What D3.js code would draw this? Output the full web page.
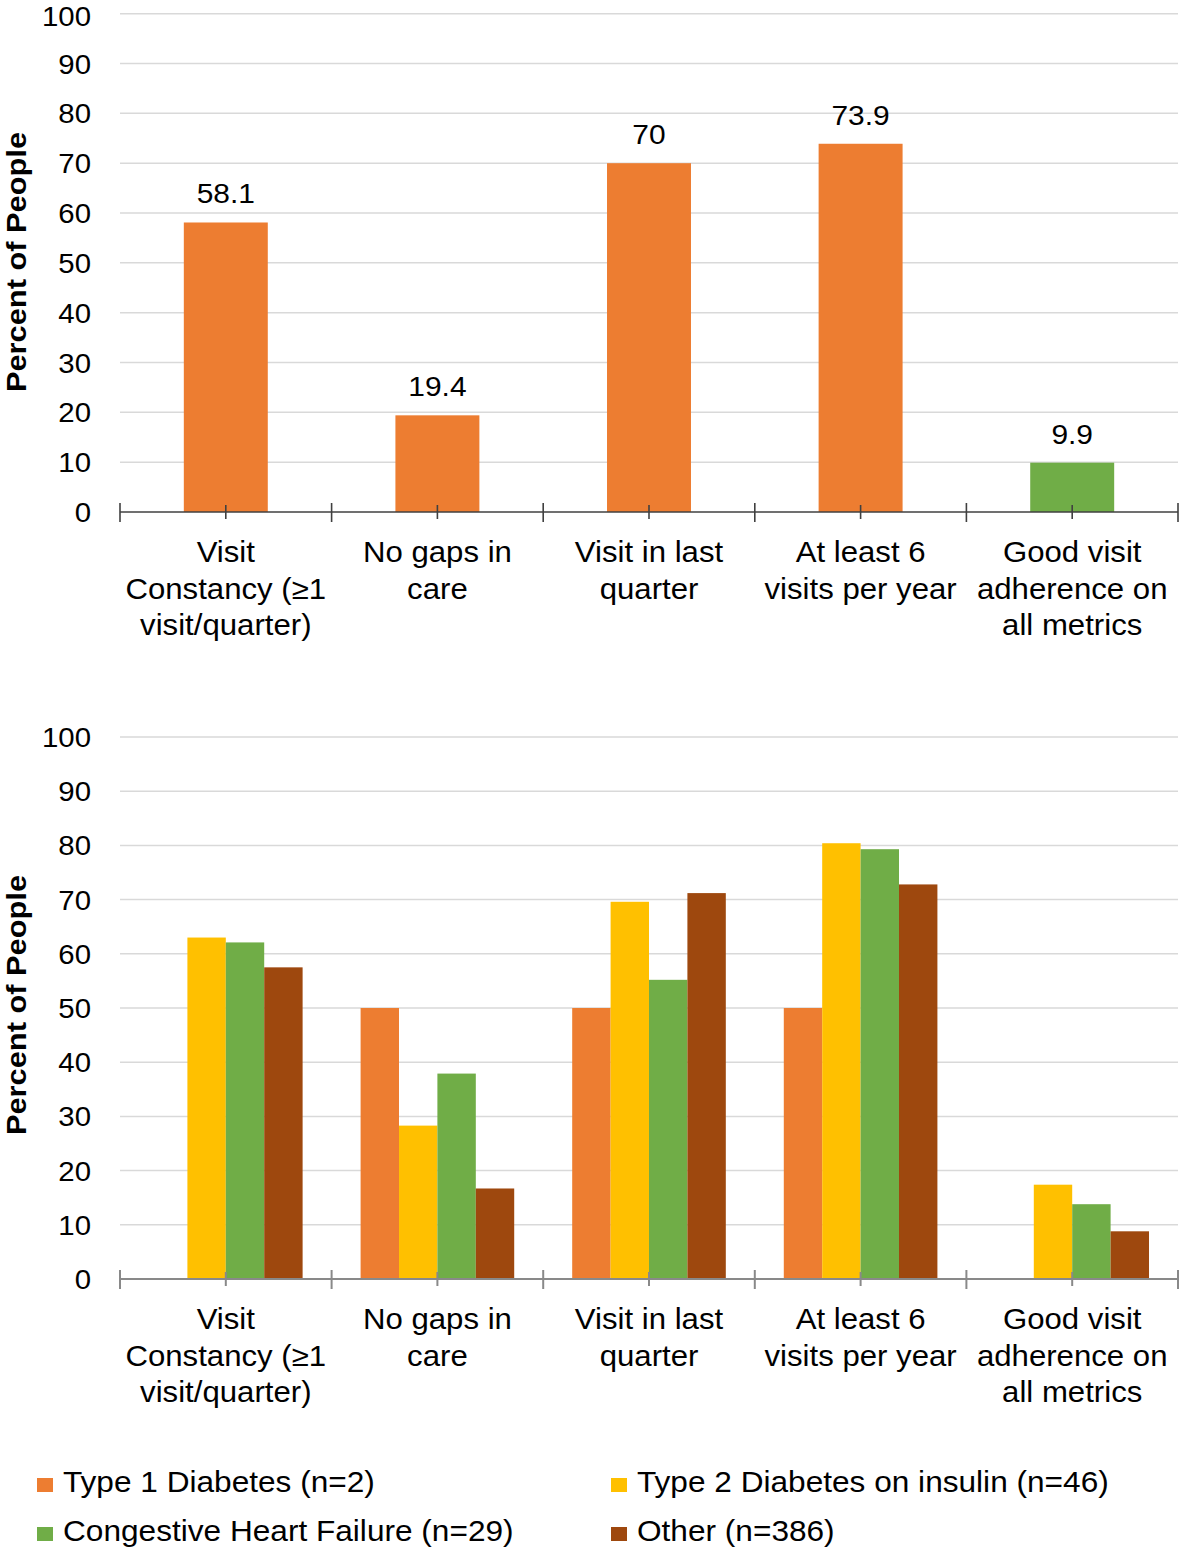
<!DOCTYPE html>
<html>
<head>
<meta charset="utf-8">
<script src="https://cdn.jsdelivr.net/npm/d3@7/dist/d3.min.js"></script>
<style>
  html, body { margin: 0; padding: 0; background: #fff; }
  svg { display: block; }
  text { font-family: "Liberation Sans", Arial, sans-serif; fill: #000; }
</style>
</head>
<body>
<div id="chart"></div>
<script>
// ---------------- DATA ----------------
const categories = [
  ["Visit", "Constancy (\u22651", "visit/quarter)"],
  ["No gaps in", "care"],
  ["Visit in last", "quarter"],
  ["At least 6", "visits per year"],
  ["Good visit", "adherence on", "all metrics"]
];
const categoryKeys = ["c1", "c2", "c3", "c4", "c5"];

// top chart (overall)
const overallValues = [58.1, 19.4, 70, 73.9, 9.9];
const overallLabels = ["58.1", "19.4", "70", "73.9", "9.9"];
const overallColors = ["#ED7D31", "#ED7D31", "#ED7D31", "#ED7D31", "#70AD47"];

// bottom chart (by condition)
const seriesNames = [
  "Type 1 Diabetes (n=2)",
  "Type 2 Diabetes on insulin (n=46)",
  "Congestive Heart Failure (n=29)",
  "Other (n=386)"
];
const seriesColors = ["#ED7D31", "#FFC000", "#70AD47", "#9E480E"];
const type1Values = [0, 50, 50, 50, 0];
const type2Values = [63.0, 28.3, 69.6, 80.4, 17.4];
const chfValues = [62.1, 37.9, 55.2, 79.3, 13.8];
const otherValues = [57.5, 16.7, 71.2, 72.8, 8.8];

const yTicks = [0, 10, 20, 30, 40, 50, 60, 70, 80, 90, 100];
const yTitle = "Percent of People";

// ---------------- LAYOUT ----------------
const W = 1181, H = 1552;
const svg = d3.select("#chart").append("svg")
  .attr("width", W).attr("height", H).attr("viewBox", `0 0 ${W} ${H}`);
svg.append("rect").attr("width", W).attr("height", H).attr("fill", "#fff");

const x = d3.scaleBand().domain(categoryKeys).range([120, 1178]).paddingInner(0).paddingOuter(0);

function addText(g, px, py, str, size, anchor, weight, sx) {
  return g.append("text")
    .attr("transform", `translate(${px},${py}) scale(${sx},1)`)
    .attr("text-anchor", anchor || "middle")
    .attr("font-size", size)
    .attr("font-weight", weight || "normal")
    .text(str);
}

function drawFrame(y, titleCenter) {
  const g = svg.append("g");
  g.selectAll("line.grid").data(yTicks.filter(t => t > 0)).join("line")
    .attr("x1", 120).attr("x2", 1178)
    .attr("y1", d => y(d)).attr("y2", d => y(d))
    .attr("stroke", "#D9D9D9").attr("stroke-width", 1.5);
  yTicks.forEach(t => addText(g, 91, Math.max(y(t) + 10, 26), String(t), 28, "end", "normal", 1.05));
  g.append("text")
    .attr("transform", `translate(26,${titleCenter}) rotate(-90) scale(1.1,1)`)
    .attr("text-anchor", "middle")
    .attr("font-size", 28)
    .attr("font-weight", "bold")
    .text(yTitle);
  return g;
}

function drawAxis(g, y, axisColor, sw) {
  const y0 = y(0);
  g.append("line").attr("x1", 120).attr("x2", 1178).attr("y1", y0).attr("y2", y0)
    .attr("stroke", axisColor).attr("stroke-width", sw);
  const bounds = categoryKeys.map(k => x(k)).concat([x.range()[1]]);
  g.selectAll("line.btick").data(bounds).join("line")
    .attr("x1", d => d).attr("x2", d => d)
    .attr("y1", y0 - 9).attr("y2", y0 + 10)
    .attr("stroke", axisColor).attr("stroke-width", sw);
  g.selectAll("line.ctick").data(categoryKeys).join("line")
    .attr("x1", d => x(d) + x.bandwidth() / 2).attr("x2", d => x(d) + x.bandwidth() / 2)
    .attr("y1", y0 - 7).attr("y2", y0 + 7)
    .attr("stroke", axisColor).attr("stroke-width", sw);
  categories.forEach((lines, i) => {
    const cx = x(categoryKeys[i]) + x.bandwidth() / 2;
    lines.forEach((ln, j) => addText(g, cx, y0 + 50 + j * 36.5, ln, 29, "middle", "normal", 1.075));
  });
}

// ---------------- TOP CHART ----------------
const yTop = d3.scaleLinear().domain([0, 100]).range([512, 13.7]);
const gTop = drawFrame(yTop, 262);
const inTop = d3.scaleBand().domain(["v"]).range([0, x.bandwidth()]).paddingOuter(0.76).paddingInner(0);
gTop.selectAll("rect.bar").data(overallValues).join("rect")
  .attr("x", (d, i) => x(categoryKeys[i]) + inTop("v"))
  .attr("width", inTop.bandwidth())
  .attr("y", d => yTop(d))
  .attr("height", d => yTop(0) - yTop(d))
  .attr("fill", (d, i) => overallColors[i]);
overallValues.forEach((v, i) => {
  addText(gTop, x(categoryKeys[i]) + x.bandwidth() / 2, yTop(v) - 19, overallLabels[i], 28, "middle", "normal", 1.07);
});
drawAxis(gTop, yTop, "#404040", 1.6);

// ---------------- BOTTOM CHART ----------------
const yBot = d3.scaleLinear().domain([0, 100]).range([1279, 737]);
const gBot = drawFrame(yBot, 1005);
const seriesKeys = ["t1", "t2", "chf", "other"];
const seriesData = [type1Values, type2Values, chfValues, otherValues];
const inBot = d3.scaleBand().domain(seriesKeys).range([0, x.bandwidth()]).paddingOuter(0.755).paddingInner(0);
seriesKeys.forEach((sk, s) => {
  gBot.selectAll(`rect.bar-${sk}`).data(seriesData[s]).join("rect")
    .attr("class", `bar-${sk}`)
    .attr("x", (d, i) => x(categoryKeys[i]) + inBot(sk))
    .attr("width", inBot.bandwidth())
    .attr("y", d => yBot(d))
    .attr("height", d => yBot(0) - yBot(d))
    .attr("fill", seriesColors[s]);
});
drawAxis(gBot, yBot, "#898989", 2);

// ---------------- LEGEND ----------------
const legCols = [37, 611];
const legRows = [1492, 1541];
const gLeg = svg.append("g");
seriesNames.forEach((name, i) => {
  const cx = legCols[i % 2], by = legRows[Math.floor(i / 2)];
  gLeg.append("rect").attr("x", cx).attr("y", by - 14).attr("width", 16).attr("height", 14)
    .attr("fill", seriesColors[i]);
  addText(gLeg, cx + 26, by, name, 29, "start", "normal", 1.09);
});
</script>
</body>
</html>
